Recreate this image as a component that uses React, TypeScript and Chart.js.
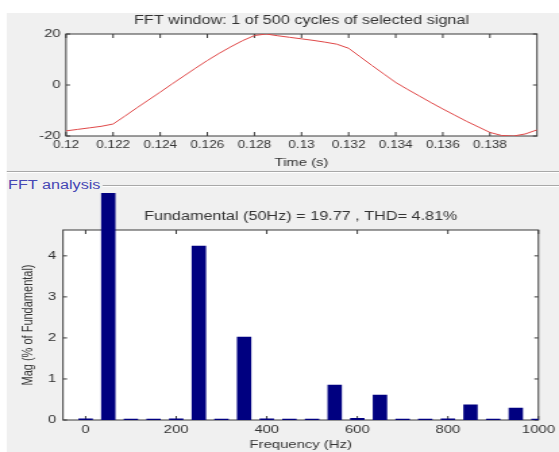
import React, { useEffect, useRef } from 'react';
import { Chart, registerables } from 'chart.js';

Chart.register(...registerables);

// ---------- data ----------
const TIME_S = [
  0.12, 0.1205, 0.121, 0.1215, 0.122, 0.1225, 0.123, 0.1235, 0.124, 0.1245,
  0.125, 0.1255, 0.126, 0.1265, 0.127, 0.1275, 0.128, 0.1285, 0.129, 0.1295,
  0.13, 0.1305, 0.131, 0.1315, 0.132, 0.1325, 0.133, 0.1335, 0.134, 0.1345,
  0.135, 0.1355, 0.136, 0.1365, 0.137, 0.1375, 0.138, 0.1385, 0.139, 0.1395,
  0.14,
];
const SIGNAL = [
  -18.0, -17.4, -16.8, -16.2, -15.3, -12.2, -9.0, -5.9, -2.8, 0.4,
  3.5, 6.6, 9.6, 12.4, 15.0, 17.4, 19.4, 20.0, 19.3, 18.7,
  18.1, 17.5, 16.8, 16.0, 14.4, 11.0, 7.6, 4.3, 1.0, -1.7,
  -4.3, -6.9, -9.4, -11.8, -14.2, -16.4, -18.6, -19.8, -20.0, -19.2,
  -17.6,
];
const TIME_TICKS = [0.12, 0.122, 0.124, 0.126, 0.128, 0.13, 0.132, 0.134, 0.136, 0.138];
const SIGNAL_TICKS = [-20, 0, 20];

const FREQ_HZ = [
  0, 50, 100, 150, 200, 250, 300, 350, 400, 450, 500,
  550, 600, 650, 700, 750, 800, 850, 900, 950, 1000,
];
const MAG_PCT = [
  0.03, 100, 0.02, 0.02, 0.03, 4.24, 0.02, 2.02, 0.03, 0.02, 0.02,
  0.85, 0.04, 0.61, 0.02, 0.02, 0.03, 0.37, 0.02, 0.29, 0.02,
];
const FREQ_TICKS = [0, 200, 400, 600, 800, 1000];
const MAG_TICKS = [0, 1, 2, 3, 4];

const TOP_TITLE = 'FFT window: 1 of 500 cycles of selected signal';
const TOP_XLABEL = 'Time (s)';
const PANEL_LABEL = 'FFT analysis';
const BOTTOM_TITLE = 'Fundamental (50Hz) = 19.77 , THD= 4.81%';
const BOTTOM_XLABEL = 'Frequency (Hz)';
const BOTTOM_YLABEL = 'Mag (% of Fundamental)';

// ---------- layout / style ----------
const W = 414;
const S = 559 / W; // horizontal stretch of the whole screenshot
const FONT = "'Liberation Sans', Arial, sans-serif";
const TEXT = '#333333';

const boxPlugin = {
  id: 'matlabBox',
  beforeDraw(chart: any) {
    const { ctx, chartArea: a } = chart;
    ctx.save();
    ctx.fillStyle = '#ffffff';
    ctx.fillRect(a.left, a.top, a.right - a.left, a.bottom - a.top);
    ctx.restore();
  },
  beforeDatasetsDraw(chart: any) {
    const { ctx, chartArea: a, scales } = chart;
    const xs = scales.x;
    const ys = scales.y;
    ctx.save();
    ctx.strokeStyle = '#3a3a3a';
    ctx.lineWidth = 1;
    ctx.beginPath();
    xs.ticks.forEach((t: any) => {
      const p = xs.getPixelForValue(t.value);
      ctx.moveTo(p, a.bottom);
      ctx.lineTo(p, a.bottom - 4);
      ctx.moveTo(p, a.top);
      ctx.lineTo(p, a.top + 4);
    });
    ys.ticks.forEach((t: any) => {
      const p = ys.getPixelForValue(t.value);
      ctx.moveTo(a.left, p);
      ctx.lineTo(a.left + 3, p);
      ctx.moveTo(a.right, p);
      ctx.lineTo(a.right - 3, p);
    });
    ctx.stroke();
    ctx.strokeRect(a.left, a.top, a.right - a.left, a.bottom - a.top);
    ctx.restore();
  },
};

// axes title centred over the plot box (as MATLAB does)
const makeTitlePlugin = (text: string, y: number) => ({
  id: 'axesTitle',
  afterDraw(chart: any) {
    const { ctx, chartArea: a } = chart;
    ctx.save();
    ctx.fillStyle = TEXT;
    ctx.font = `12px ${FONT}`;
    ctx.textAlign = 'center';
    ctx.textBaseline = 'middle';
    ctx.fillText(text, (a.left + a.right) / 2, y);
    ctx.restore();
  },
});

function TopChart() {
  const ref = useRef<HTMLCanvasElement>(null);
  useEffect(() => {
    const chart = new Chart(ref.current as HTMLCanvasElement, {
      type: 'line',
      data: {
        datasets: [
          {
            data: TIME_S.map((t, i) => ({ x: t, y: SIGNAL[i] })),
            borderColor: '#e04848',
            borderWidth: 1,
            pointRadius: 0,
            tension: 0,
            fill: false,
          },
        ],
      },
      options: {
        responsive: false,
        animation: false,
        events: [],
        layout: { padding: { left: 0, right: W - 537 / S, top: 34, bottom: 0 } },
        plugins: {
          legend: { display: false },
          tooltip: { enabled: false },
          title: { display: false },
        },
        scales: {
          x: {
            type: 'linear',
            min: 0.12,
            max: 0.14,
            grid: { display: false, drawTicks: false },
            border: { display: false },
            ticks: {
              color: TEXT,
              font: { family: FONT, size: 10 },
              padding: 3,
              autoSkip: false,
              maxRotation: 0,
              callback: (v: any) => String(v),
            },
            afterBuildTicks: (s: any) => {
              s.ticks = TIME_TICKS.map((v) => ({ value: v }));
            },
            afterFit: (s: any) => {
              s.height = 36;
            },
            title: {
              display: true,
              text: TOP_XLABEL,
              color: TEXT,
              font: { family: FONT, size: 11, lineHeight: 1.2 },
              padding: { top: 0, bottom: 2.4 },
            },
          },
          y: {
            type: 'linear',
            min: -20,
            max: 20,
            grid: { display: false, drawTicks: false },
            border: { display: false },
            ticks: {
              color: TEXT,
              font: { family: FONT, size: 11 },
              padding: 4,
              callback: (v: any) => String(v),
            },
            afterBuildTicks: (s: any) => {
              s.ticks = SIGNAL_TICKS.map((v) => ({ value: v }));
            },
            afterFit: (s: any) => {
              s.width = 66 / S;
            },
          },
        },
      } as any,
      plugins: [boxPlugin as any, makeTitlePlugin(TOP_TITLE, 20.5) as any],
    });
    return () => chart.destroy();
  }, []);
  return (
    <canvas
      ref={ref}
      width={W}
      height={172}
      style={{ position: 'absolute', left: 0, top: 0, width: W, height: 172 }}
    />
  );
}

function BottomChart() {
  const ref = useRef<HTMLCanvasElement>(null);
  useEffect(() => {
    const chart = new Chart(ref.current as HTMLCanvasElement, {
      type: 'bar',
      data: {
        datasets: [
          {
            data: FREQ_HZ.map((f, i) => ({ x: f, y: MAG_PCT[i] })),
            backgroundColor: '#000080',
            borderWidth: 0,
            barThickness: 10,
            clip: { left: 0, top: 37, right: 0, bottom: 0 },
          },
        ],
      },
      options: {
        responsive: false,
        animation: false,
        events: [],
        layout: { padding: { left: 0, right: W - 541 / S, top: 44, bottom: 0 } },
        plugins: {
          legend: { display: false },
          tooltip: { enabled: false },
          title: { display: false },
        },
        scales: {
          x: {
            type: 'linear',
            min: -50,
            max: 1000,
            offset: false,
            grid: { display: false, drawTicks: false, offset: false },
            border: { display: false },
            ticks: {
              color: TEXT,
              font: { family: FONT, size: 11 },
              padding: 3,
              autoSkip: false,
              maxRotation: 0,
              callback: (v: any) => String(v),
            },
            afterBuildTicks: (s: any) => {
              s.ticks = FREQ_TICKS.map((v) => ({ value: v }));
            },
            afterFit: (s: any) => {
              s.height = 32;
            },
            title: {
              display: true,
              text: BOTTOM_XLABEL,
              color: TEXT,
              font: { family: FONT, size: 11, lineHeight: 1.2 },
              padding: { top: 0, bottom: 0.4 },
            },
          },
          y: {
            type: 'linear',
            min: 0,
            max: 4.63,
            grid: { display: false, drawTicks: false },
            border: { display: false },
            ticks: {
              color: TEXT,
              font: { family: FONT, size: 11 },
              padding: 5,
              callback: (v: any) => String(v),
            },
            afterBuildTicks: (s: any) => {
              s.ticks = MAG_TICKS.map((v) => ({ value: v }));
            },
            afterFit: (s: any) => {
              s.width = 63 / S;
            },
            title: {
              display: true,
              text: BOTTOM_YLABEL,
              color: TEXT,
              font: { family: FONT, size: 11, lineHeight: 1.2 },
              padding: { top: 14.1, bottom: 0 },
            },
          },
        },
      } as any,
      plugins: [boxPlugin as any, makeTitlePlugin(BOTTOM_TITLE, 31) as any],
    });
    return () => chart.destroy();
  }, []);
  return (
    <canvas
      ref={ref}
      width={W}
      height={266}
      style={{ position: 'absolute', left: 0, top: 186, width: W, height: 266 }}
    />
  );
}

export default function App() {
  return (
    <div
      style={{
        position: 'absolute',
        left: 0,
        top: 0,
        width: 559,
        height: 452,
        background: '#ffffff',
        overflow: 'hidden',
      }}
    >
      <div
        style={{
          position: 'absolute',
          left: 0,
          top: 0,
          width: W,
          height: 452,
          transform: `scaleX(${S})`,
          transformOrigin: '0 0',
        }}
      >
        <div
          style={{
            position: 'absolute',
            left: 7 / S,
            top: 13,
            right: 0,
            bottom: 0,
            background: '#f0f0f0',
          }}
        />
        <div
          style={{
            position: 'absolute',
            left: 7 / S,
            right: 0,
            top: 171,
            height: 0,
            borderTop: '1px solid #a8a8a8',
            borderBottom: '1px solid #ffffff',
          }}
        />
        <div
          style={{
            position: 'absolute',
            left: 103 / S,
            right: 0,
            top: 185,
            height: 0,
            borderTop: '1px solid #a8a8a8',
            borderBottom: '1px solid #ffffff',
          }}
        />
        <div
          style={{
            position: 'absolute',
            left: 8 / S,
            top: 178,
            font: `12px ${FONT}`,
            lineHeight: '14px',
            color: '#4646b4',
            whiteSpace: 'nowrap',
          }}
        >
          {PANEL_LABEL}
        </div>
        <TopChart />
        <BottomChart />
      </div>
    </div>
  );
}
